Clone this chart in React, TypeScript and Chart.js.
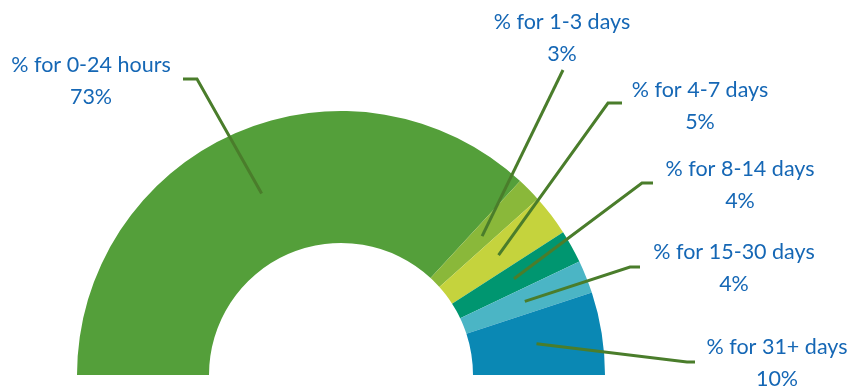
import React, { useEffect, useRef } from "react";
import { Chart, registerables } from "chart.js";

Chart.register(...registerables);

const categories = [
  "% for 0-24 hours",
  "% for 1-3 days",
  "% for 4-7 days",
  "% for 8-14 days",
  "% for 15-30 days",
  "% for 31+ days",
];
const values = [73, 3, 5, 4, 4, 10];
const valueLabels = ["73%", "3%", "5%", "4%", "4%", "10%"];
const colors = ["#549f3a", "#8ab83a", "#c5d33d", "#009670", "#4bb5c5", "#0a88b4"];

// layout: label text centres and leader-line elbow/end points (pixels)
const labelPos = [
  [91, 65],
  [562, 22],
  [700, 90],
  [740, 169],
  [734, 252],
  [777, 347],
];
const leaderElbow = [
  [197, 79],
  [563, 70],
  [608, 103],
  [642, 183],
  [630, 267],
  [687, 362],
];
const leaderEnd = [
  [183, 79],
  [563, 70],
  [622, 103],
  [653, 183],
  [640, 267],
  [695, 362],
];

const labelPlugin = {
  id: "leaderLabels",
  afterDraw(chart: any) {
    const ctx = chart.ctx;
    const meta = chart.getDatasetMeta(0);
    ctx.save();
    ctx.strokeStyle = "#4a7d2b";
    ctx.lineWidth = 3;
    ctx.lineJoin = "miter";
    meta.data.forEach((arc: any, i: number) => {
      const p = arc.getCenterPoint();
      ctx.beginPath();
      ctx.moveTo(p.x, p.y);
      ctx.lineTo(leaderElbow[i][0], leaderElbow[i][1]);
      ctx.lineTo(leaderEnd[i][0], leaderEnd[i][1]);
      ctx.stroke();
    });
    ctx.fillStyle = "#1567b5";
    ctx.font = "21.5px Lato";
    ctx.textAlign = "center";
    ctx.textBaseline = "middle";
    categories.forEach((c, i) => {
      ctx.fillText(c, labelPos[i][0], labelPos[i][1]);
      ctx.fillText(valueLabels[i], labelPos[i][0], labelPos[i][1] + 32);
    });
    ctx.restore();
  },
};

export default function App() {
  const ref = useRef<HTMLCanvasElement>(null);
  useEffect(() => {
    document.body.style.margin = "0";
    const chart = new Chart(ref.current!, {
      type: "doughnut",
      data: {
        labels: categories,
        datasets: [
          {
            data: values,
            backgroundColor: colors,
            borderWidth: 0,
          },
        ],
      },
      options: {
        animation: false,
        responsive: true,
        maintainAspectRatio: false,
        rotation: -90,
        circumference: 180,
        cutout: "50%",
        layout: { padding: { top: 111, bottom: 15, left: 77, right: 248 } },
        plugins: {
          legend: { display: false },
          tooltip: { enabled: false },
        },
      },
      plugins: [labelPlugin],
    });
    return () => chart.destroy();
  }, []);
  return (
    <div style={{ width: 853, height: 390, position: "relative" }}>
      <canvas ref={ref} />
    </div>
  );
}
